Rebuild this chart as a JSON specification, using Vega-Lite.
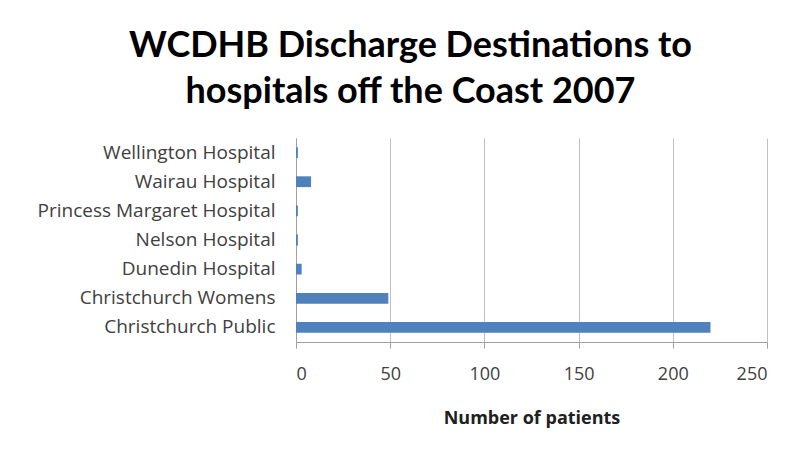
{
  "$schema": "https://vega.github.io/schema/vega-lite/v6.json",
  "autosize": {"type": "none"},
  "width": 471,
  "height": 204,
  "padding": {"left": 296, "top": 138, "right": 33, "bottom": 108},
  "background": "white",
  "title": {
    "text": ["WCDHB Discharge Destinations to", "hospitals off the Coast 2007"],
    "font": "Lato",
    "fontSize": 36,
    "fontWeight": "bold",
    "color": "#000000",
    "anchor": "middle",
    "dx": -121,
    "offset": 27,
    "lineHeight": 46
  },
  "data": {
    "values": [
      {"hospital": "Wellington Hospital", "patients": 1},
      {"hospital": "Wairau Hospital", "patients": 8},
      {"hospital": "Princess Margaret Hospital", "patients": 1},
      {"hospital": "Nelson Hospital", "patients": 1},
      {"hospital": "Dunedin Hospital", "patients": 3},
      {"hospital": "Christchurch Womens", "patients": 49},
      {"hospital": "Christchurch Public", "patients": 220}
    ]
  },
  "mark": {"type": "bar", "color": "#4f81bd"},
  "encoding": {
    "y": {
      "field": "hospital",
      "type": "nominal",
      "sort": null,
      "scale": {"paddingInner": 0.63, "paddingOuter": 0.315},
      "axis": {
        "title": null,
        "ticks": false,
        "domain": true,
        "domainColor": "#a0a0a0",
        "labelFont": "Open Sans",
        "labelFontSize": 19,
        "labelColor": "#404040",
        "labelPadding": 21,
        "labelLimit": 300
      }
    },
    "x": {
      "field": "patients",
      "type": "quantitative",
      "scale": {"domain": [0, 250], "nice": false},
      "axis": {
        "values": [0, 50, 100, 150, 200, 250],
        "title": "Number of patients",
        "titleFont": "Open Sans",
        "titleFontSize": 18,
        "titleFontWeight": "bold",
        "titleColor": "#202020",
        "titlePadding": 26,
        "labelFont": "Open Sans",
        "labelFontSize": 18,
        "labelColor": "#404040",
        "labelPadding": 17,
        "tickColor": "#a0a0a0",
        "tickSize": 6,
        "domainColor": "#a0a0a0",
        "grid": true,
        "gridColor": "#c0c0c0"
      }
    }
  },
  "config": {"view": {"stroke": null}}
}
